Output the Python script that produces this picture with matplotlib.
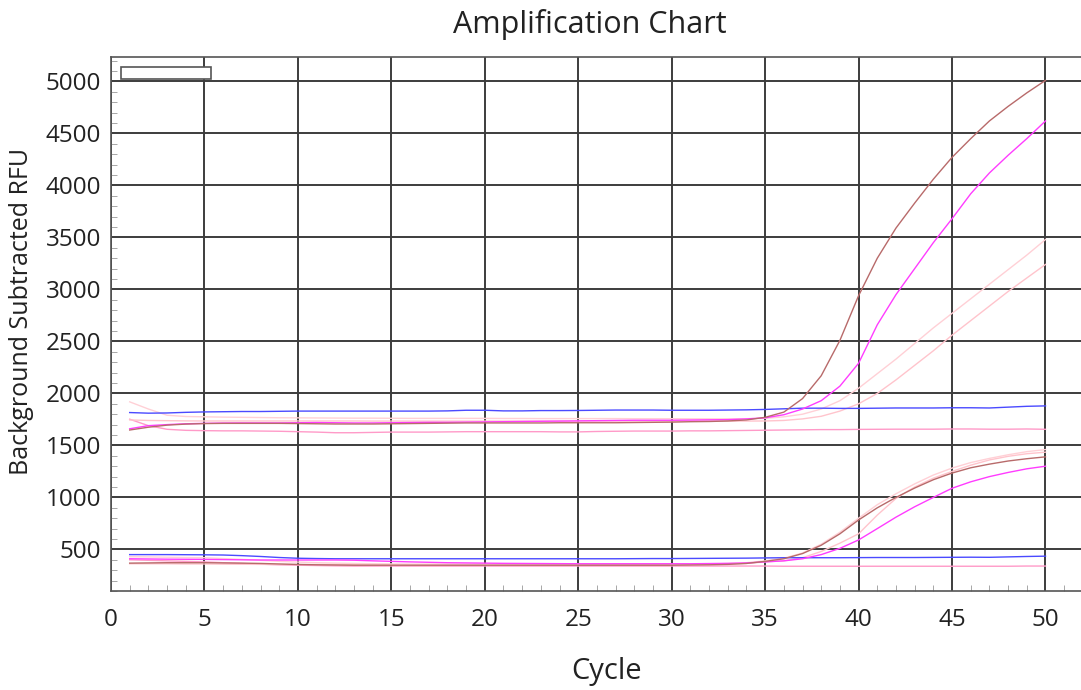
import numpy as np
import matplotlib
matplotlib.use("Agg")
import matplotlib.pyplot as plt
from matplotlib.ticker import MultipleLocator
from matplotlib.patches import Rectangle

plt.rcParams['font.family'] = ['Open Sans', 'DejaVu Sans']

cycles = np.arange(1, 51)

# upper group (~1700 baseline)
blue_hi = [1816, 1810, 1812, 1818, 1822, 1824, 1826, 1826, 1828, 1830,
           1830, 1830, 1830, 1830, 1830, 1830, 1830, 1832, 1838, 1838,
           1832, 1832, 1835, 1835, 1836, 1838, 1840, 1840, 1840, 1838,
           1838, 1838, 1840, 1842, 1846, 1852, 1858, 1858, 1856, 1856,
           1858, 1860, 1860, 1860, 1862, 1862, 1860, 1868, 1876, 1880]
pink_hi = [1752, 1690, 1655, 1645, 1642, 1640, 1640, 1638, 1636, 1632,
           1628, 1622, 1622, 1625, 1628, 1628, 1628, 1630, 1632, 1632,
           1632, 1632, 1632, 1630, 1630, 1634, 1636, 1638, 1638, 1638,
           1640, 1640, 1642, 1644, 1646, 1648, 1650, 1652, 1652, 1654,
           1655, 1656, 1656, 1656, 1658, 1658, 1656, 1656, 1658, 1655]
light1_hi = [1919, 1850, 1790, 1778, 1775, 1772, 1770, 1768, 1766, 1765,
             1764, 1763, 1762, 1762, 1761, 1760, 1760, 1760, 1760, 1760,
             1759, 1759, 1758, 1758, 1758, 1758, 1758, 1757, 1757, 1757,
             1756, 1756, 1756, 1757, 1760, 1775, 1800, 1850, 1930, 2050,
             2190, 2330, 2480, 2630, 2770, 2910, 3050, 3190, 3330, 3480]
light2_hi = [1745, 1740, 1738, 1736, 1735, 1735, 1735, 1735, 1735, 1735,
             1735, 1735, 1735, 1734, 1734, 1734, 1734, 1734, 1734, 1734,
             1734, 1734, 1734, 1734, 1734, 1734, 1734, 1734, 1734, 1734,
             1734, 1734, 1734, 1734, 1735, 1740, 1755, 1780, 1830, 1900,
             2000, 2130, 2270, 2410, 2560, 2700, 2840, 2980, 3110, 3240]
magenta_hi = [1660, 1690, 1700, 1708, 1712, 1715, 1716, 1716, 1716, 1718,
              1720, 1718, 1716, 1716, 1718, 1720, 1722, 1722, 1724, 1726,
              1728, 1730, 1732, 1734, 1736, 1738, 1740, 1742, 1742, 1742,
              1744, 1746, 1748, 1755, 1765, 1795, 1850, 1930, 2070, 2290,
              2660, 2950, 3200, 3450, 3680, 3920, 4120, 4290, 4450, 4620]
brown_hi = [1648, 1675, 1695, 1705, 1710, 1712, 1712, 1712, 1712, 1710,
            1708, 1706, 1706, 1706, 1708, 1710, 1712, 1714, 1716, 1716,
            1716, 1716, 1716, 1718, 1718, 1718, 1718, 1720, 1722, 1724,
            1728, 1730, 1735, 1745, 1770, 1820, 1950, 2170, 2510, 2940,
            3300, 3590, 3830, 4060, 4270, 4450, 4620, 4760, 4890, 5010]

# lower group (~400 baseline)
blue_lo = [450, 450, 450, 449, 448, 446, 440, 432, 422, 415,
           412, 410, 410, 410, 410, 410, 410, 410, 410, 410,
           410, 410, 410, 410, 410, 410, 410, 411, 412, 412,
           413, 414, 415, 416, 418, 420, 420, 420, 420, 421,
           422, 422, 422, 423, 424, 425, 424, 428, 432, 435]
pink_lo = [400, 395, 390, 385, 380, 372, 365, 358, 352, 348,
           345, 342, 340, 340, 340, 340, 340, 340, 340, 340,
           340, 340, 340, 340, 340, 340, 340, 340, 340, 340,
           340, 340, 340, 340, 340, 338, 338, 338, 338, 338,
           338, 338, 338, 338, 338, 338, 338, 338, 340, 340]
light1_lo = [430, 428, 425, 422, 420, 412, 404, 395, 385, 378,
             372, 368, 365, 362, 360, 358, 358, 358, 358, 358,
             358, 358, 358, 358, 358, 358, 358, 358, 358, 358,
             358, 360, 364, 372, 390, 415, 465, 550, 665, 800,
             930, 1035, 1130, 1215, 1282, 1335, 1375, 1410, 1440, 1460]
light2_lo = [362, 362, 362, 360, 360, 358, 357, 356, 355, 355,
             355, 355, 355, 355, 355, 355, 355, 355, 355, 355,
             355, 355, 355, 355, 355, 355, 355, 355, 355, 355,
             355, 356, 358, 365, 380, 390, 420, 480, 560, 650,
             830, 990, 1100, 1185, 1250, 1310, 1360, 1395, 1420, 1435]
magenta_lo = [410, 408, 406, 405, 404, 402, 400, 398, 398, 398,
              398, 398, 396, 390, 385, 380, 376, 372, 370, 368,
              366, 365, 364, 363, 362, 362, 362, 362, 362, 362,
              362, 364, 366, 370, 380, 390, 410, 450, 510, 591,
              700, 810, 910, 1000, 1088, 1150, 1200, 1240, 1275, 1300]
brown_lo = [368, 370, 372, 372, 372, 370, 368, 365, 360, 355,
            352, 350, 348, 348, 348, 348, 348, 348, 348, 348,
            348, 348, 348, 348, 348, 348, 348, 348, 348, 348,
            350, 352, 356, 365, 385, 410, 460, 540, 650, 783,
            900, 1000, 1090, 1170, 1234, 1285, 1320, 1350, 1372, 1390]

col_blue = '#4a4aff'
col_pink = '#ff9ac8'
col_light1 = '#ffd0d6'
col_light2 = '#ffc4cc'
col_magenta = '#ff3cff'
col_brown = '#b86a6a'

series = [
    (pink_hi, col_pink), (pink_lo, col_pink),
    (light2_hi, col_light2), (light2_lo, col_light2),
    (light1_hi, col_light1), (light1_lo, col_light1),
    (blue_hi, col_blue), (blue_lo, col_blue),
    (magenta_hi, col_magenta), (magenta_lo, col_magenta),
    (brown_hi, col_brown), (brown_lo, col_brown),
]

fig = plt.figure(figsize=(10.81, 6.90), dpi=100)
ax = fig.add_axes([111/1081, 99/690, 970/1081, 534/690])

for vals, c in series:
    ax.plot(cycles, vals, color=c, lw=1.0, zorder=3)

ax.set_xlim(0, 51.9)
ax.set_ylim(100, 5235)
ax.xaxis.set_major_locator(MultipleLocator(5))
ax.xaxis.set_minor_locator(MultipleLocator(1))
ax.yaxis.set_minor_locator(MultipleLocator(100))
ax.set_yticks(np.arange(500, 5001, 500))
ax.grid(True, which='major', color='#3c3c3c', lw=1.4, zorder=1)
ax.tick_params(which='major', length=0, labelsize=17.5, pad=12, colors='#222222')
ax.tick_params(axis='y', which='major', pad=7)
ax.tick_params(which='minor', direction='in', length=4, color='#999999')
for s in ['left', 'bottom', 'top']:
    ax.spines[s].set_color('#555555')
    ax.spines[s].set_linewidth(1.2)
ax.spines['right'].set_visible(False)

# empty legend box
ax.add_patch(Rectangle((0.0103, 0.958), 0.0928, 0.0236, transform=ax.transAxes,
                       facecolor='white', edgecolor='#555555', lw=1.2, zorder=5))

fig.text(590/1081, 1 - 25/690, 'Amplification Chart', ha='center', va='center',
         fontsize=22, color='#222222')
fig.text(607/1081, 1 - 672/690, 'Cycle', ha='center', va='center',
         fontsize=21, color='#222222')
fig.text(22/1081, 1 - 311/690, 'Background Subtracted RFU', ha='center', va='center',
         rotation=90, fontsize=18, color='#222222')

fig.savefig('out.png', dpi=100)
